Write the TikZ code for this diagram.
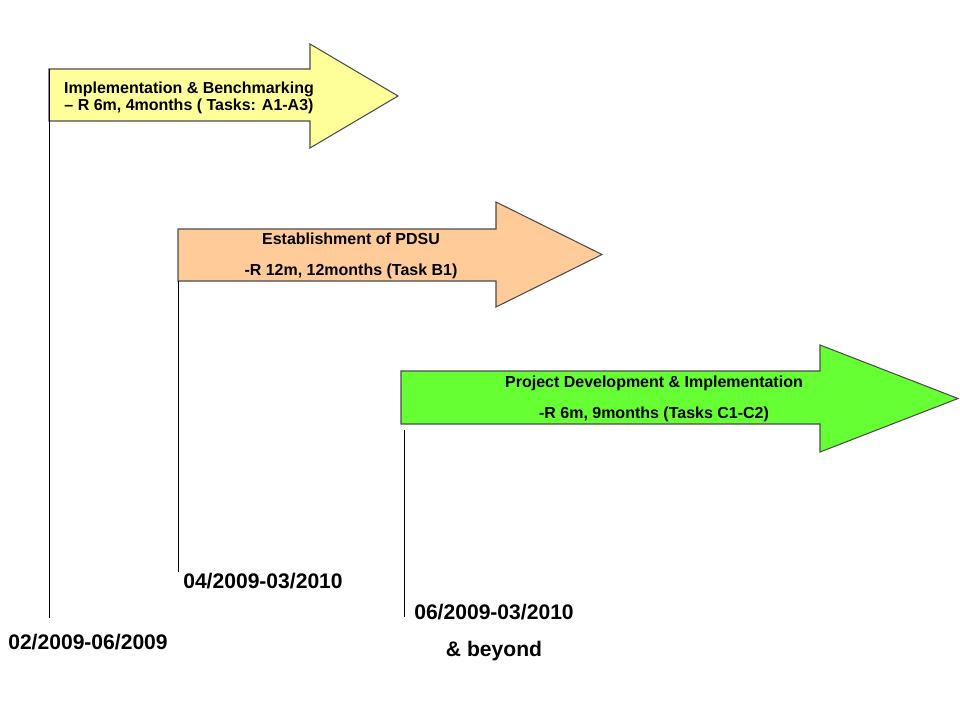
\documentclass[tikz,border=0pt]{standalone}
\usepackage{fontspec}
\setmainfont{Liberation Sans}
\definecolor{phaseA}{HTML}{FFFF99}
\definecolor{phaseB}{HTML}{FFCC99}
\definecolor{phaseC}{HTML}{66FF33}
\tikzset{
  phase/.style={draw=black!70,line width=0.6pt},
  phasetext/.style={font=\bfseries\fontsize{9.1}{10.5}\selectfont,align=center},
  datetext/.style={font=\bfseries\fontsize{12}{14}\selectfont}
}
\begin{document}
\begin{tikzpicture}[x=0.02cm,y=-0.02cm]
\useasboundingbox (0,0) rectangle (960,720);
% phase arrows: left/top/bottom/head x/head top/head bottom/tip/colour
\foreach \l/\t/\b/\h/\ht/\hb/\tx/\c in {49/69/121/310/44/148/398/phaseA,
                   178/229/281/496/202/307/602/phaseB,
                   401/371/424/820/345/452/958/phaseC}
  \draw[phase,fill=\c] (\l,\t) -- (\h,\t) -- (\h,\ht) -- (\tx,{(\ht+\hb)/2})
     -- (\h,\hb) -- (\h,\b) -- (\l,\b) -- cycle;
\node[phasetext] (implA) at (189,98) {Implementation \& Benchmarking\\[-1pt] -- R 6m, 4months ( Tasks: A1-A3)};
\node[phasetext] (estB) at (351,256) {Establishment of PDSU\\[7pt] -R 12m, 12months (Task B1)};
\node[phasetext] (projC) at (654,399) {Project Development \& Implementation\\[7pt] -R 6m, 9months (Tasks C1-C2)};
% start dates
\coordinate (startA) at (49,69);
\coordinate (startB) at (178,281);
\coordinate (startC) at (404,430);
\coordinate (endA) at (49,618);
\coordinate (endB) at (178,572);
\coordinate (endC) at (404,617);
\draw[black] (startA) -- (endA);
\draw[black] (startB) -- (endB);
\draw[black] (startC) -- (endC);
\node[datetext] (dateA) at (88,642) {02/2009-06/2009};
\node[datetext] (dateB) at (263,581) {04/2009-03/2010};
\node[datetext] (dateC) at (494,612) {06/2009-03/2010};
\node[datetext] (beyondC) at (494,651) {\& beyond};
\end{tikzpicture}
\end{document}
